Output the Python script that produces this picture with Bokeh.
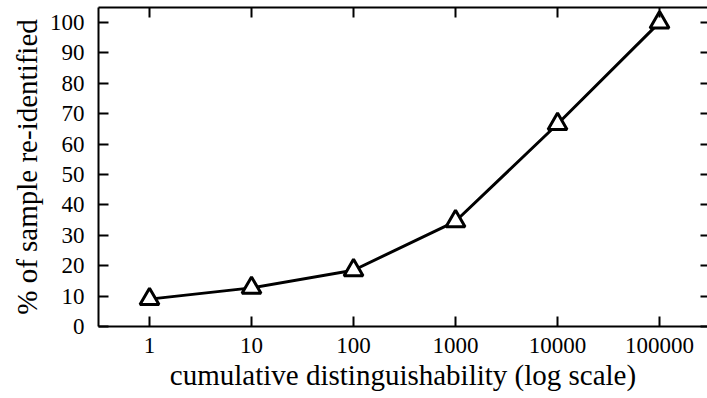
from bokeh.plotting import figure
from bokeh.models import (FixedTicker, NumeralTickFormatter, LogAxis, LinearAxis,
                          Range1d)
from bokeh.embed import file_html
from bokeh.resources import INLINE

# data
distinguishability = [1, 10, 100, 1000, 10000, 100000]
pct_reidentified = [9.0, 12.7, 18.5, 34.6, 66.6, 100.0]
x_ticks = [1, 10, 100, 1000, 10000, 100000]
y_ticks = [0, 10, 20, 30, 40, 50, 60, 70, 80, 90, 100]

FONT = "Liberation Serif"

p = figure(width=707, height=398, x_axis_type="log",
           x_range=Range1d(10 ** -0.5, 10 ** 5.47), y_range=Range1d(0, 104.9),
           output_backend="svg", toolbar_location=None,
           min_border_left=98, min_border_right=0, min_border_top=7,
           min_border_bottom=72)
p.outline_line_color = None
p.grid.visible = False
p.background_fill_color = "white"
p.border_fill_color = "white"

def style(ax, labels=True):
    ax.axis_line_color = "black"
    ax.axis_line_width = 2
    ax.major_tick_line_color = "black"
    ax.major_tick_line_width = 2
    ax.major_tick_in = 10
    ax.major_tick_out = 0
    ax.minor_tick_line_color = None
    ax.major_label_text_font = FONT
    ax.major_label_text_color = "black"
    ax.axis_label_text_font = FONT
    ax.axis_label_text_font_style = "normal"
    ax.axis_label_text_color = "black"
    if not labels:
        ax.major_label_text_font_size = "1px"
        ax.major_label_text_color = None
        ax.major_label_standoff = 0

xb = p.xaxis[0]
xb.ticker = FixedTicker(ticks=x_ticks)
xb.formatter = NumeralTickFormatter(format="0")
style(xb)
xb.major_label_text_font_size = "23px"
xb.major_label_standoff = 11
xb.axis_label = "cumulative distinguishability (log scale)"
xb.axis_label_text_font_size = "29px"
xb.axis_label_standoff = 3

yl = p.yaxis[0]
yl.ticker = FixedTicker(ticks=y_ticks)
style(yl)
yl.major_label_text_font_size = "23px"
yl.major_label_standoff = 14
yl.axis_label = "% of sample re-identified"
yl.axis_label_text_font_size = "29px"
yl.axis_label_standoff = 4

top = LogAxis(ticker=FixedTicker(ticks=x_ticks))
style(top, labels=False)
p.add_layout(top, "above")

right = LinearAxis(ticker=FixedTicker(ticks=y_ticks))
style(right, labels=False)
right.axis_line_color = None
right.major_tick_in = 7
p.add_layout(right, "right")

p.line(distinguishability, pct_reidentified, line_color="black", line_width=3)
p.scatter(distinguishability, pct_reidentified, marker="triangle", size=19,
          fill_color="white", line_color="black", line_width=3)

open("out.html", "w").write(file_html(p, INLINE))
